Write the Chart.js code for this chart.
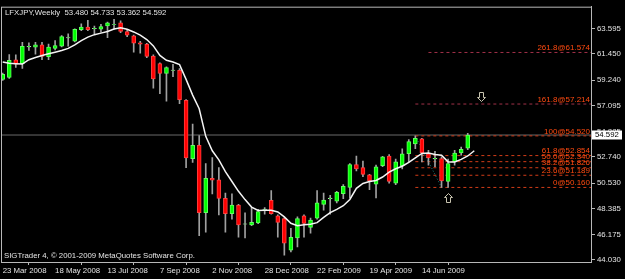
<!DOCTYPE html>
<html>
<head>
<meta charset="utf-8">
<script src="https://cdn.jsdelivr.net/npm/chart.js@4/dist/chart.umd.min.js"></script>
<style>
  html, body { margin: 0; padding: 0; background: #000; }
  #wrap { width: 625px; height: 279px; position: relative; }
</style>
</head>
<body>
<div id="wrap"><canvas id="chart"></canvas></div>
<script>
// weekly bars, index 0 = 23 Mar 2008
const opens  = [59.30, 59.47, 60.96, 60.63, 62.05, 62.02, 62.21, 61.21, 61.92, 62.10, 62.80, 62.52, 63.50, 63.73, 63.58, 63.54, 63.81, 63.94, 64.09, 63.35, 62.98, 62.40, 62.29, 61.27, 60.63, 59.80, 60.05, 60.07, 57.53, 52.60, 53.71, 48.03, 50.94, 50.80, 49.23, 47.95, 48.67, 47.05, 46.98, 47.15, 48.29, 49.06, 47.76, 47.53, 44.85, 45.90, 47.76, 46.78, 47.57, 48.73, 49.21, 49.00, 49.64, 50.17, 52.10, 51.83, 51.22, 50.44, 51.99, 52.82, 50.52, 51.99, 53.01, 53.84, 54.26, 53.01, 52.58, 52.60, 50.66, 52.32, 53.07, 53.480];
const highs  = [59.84, 61.40, 61.38, 62.43, 62.38, 62.43, 62.43, 62.29, 62.57, 63.00, 63.16, 63.58, 64.00, 64.29, 63.81, 63.95, 64.14, 64.37, 64.24, 63.54, 63.04, 62.52, 62.35, 61.38, 60.69, 60.36, 60.57, 60.21, 57.58, 55.51, 54.54, 52.18, 52.68, 51.83, 49.69, 49.61, 48.73, 48.02, 48.45, 48.31, 48.45, 49.89, 47.84, 47.61, 46.70, 47.67, 47.84, 47.57, 49.89, 49.69, 49.50, 49.83, 50.40, 52.18, 52.82, 52.38, 51.27, 52.05, 52.80, 52.93, 52.55, 53.43, 54.21, 54.52, 54.32, 53.30, 53.21, 52.74, 52.55, 53.30, 53.57, 54.733];
const lows   = [59.22, 59.38, 60.30, 60.22, 61.75, 61.42, 60.96, 60.96, 61.79, 62.04, 62.10, 62.46, 63.41, 63.41, 63.16, 63.29, 62.83, 63.54, 63.25, 62.90, 61.60, 61.52, 61.13, 58.55, 58.08, 57.45, 59.53, 57.25, 51.83, 52.27, 46.09, 46.37, 49.61, 47.84, 46.37, 47.48, 45.95, 45.90, 46.93, 47.09, 47.90, 47.90, 45.95, 44.43, 44.70, 45.12, 45.95, 46.29, 47.48, 48.23, 47.90, 48.86, 49.20, 49.28, 51.55, 51.08, 49.97, 49.28, 51.91, 50.52, 50.39, 51.72, 52.32, 53.43, 52.32, 52.05, 51.91, 50.16, 50.16, 52.05, 52.88, 53.362];
const closes = [59.72, 60.90, 60.59, 62.10, 62.09, 62.21, 61.25, 62.04, 62.15, 62.91, 62.84, 63.54, 63.73, 63.51, 63.61, 63.76, 64.09, 63.96, 63.35, 63.04, 62.37, 62.27, 61.24, 59.33, 59.80, 60.30, 60.09, 57.58, 52.66, 53.71, 48.03, 50.94, 50.77, 49.23, 47.95, 48.67, 46.98, 47.09, 47.20, 48.11, 48.33, 47.95, 47.20, 45.45, 45.95, 47.53, 47.12, 47.40, 48.86, 49.08, 49.25, 49.75, 50.25, 52.10, 51.72, 51.27, 50.72, 51.91, 52.74, 50.66, 52.32, 53.01, 54.04, 54.32, 53.10, 52.66, 52.62, 50.72, 52.18, 53.07, 53.38, 54.592];

// moving average (one value per bar position, last one is one bar ahead)
const maValues = [60.77, 60.67, 60.63, 60.59, 60.96, 61.15, 61.32, 61.46, 61.60, 61.74, 61.92, 62.21, 62.58, 62.87, 63.08, 63.21, 63.35, 63.56, 63.66, 63.54, 63.31, 63.04, 62.67, 62.13, 61.32, 60.91, 60.77, 60.55, 59.30, 57.97, 56.81, 54.48, 53.26, 52.49, 51.49, 50.66, 49.83, 49.13, 48.50, 48.21, 48.23, 48.23, 48.09, 47.67, 47.13, 46.93, 47.01, 47.05, 47.18, 47.62, 48.03, 48.31, 48.61, 49.14, 50.08, 50.50, 50.66, 50.75, 51.04, 51.45, 51.74, 51.95, 52.28, 52.66, 53.03, 53.07, 52.95, 52.88, 52.32, 52.32, 52.53, 52.82, 53.26];

const xTickIdx    = [0, 8, 16, 24, 32, 40, 48, 56, 64];
const xTickLabels = ['23 Mar 2008', '18 May 2008', '13 Jul 2008', '7 Sep 2008', '2 Nov 2008', '28 Dec 2008', '22 Feb 2009', '19 Apr 2009', '14 Jun 2009'];
const yTicks      = [44.030, 46.175, 48.385, 50.530, 52.740, 54.885, 57.095, 59.240, 61.450, 63.595];

const fibLevels = ['0', '23.6', '38.2', '50.0', '61.8', '100', '161.8', '261.8'];
const fibPrices = [50.160, 51.189, 51.826, 52.340, 52.854, 54.520, 57.214, 61.574];
const fibFrom   = [63, 63, 63, 63, 63, 63, 63, 65];   // bar where each level begins
const fibAnchor = [63, 67];    // bars of the 100 and 0 points
const lastPrice = 54.592;
const arrows    = [{ i: 73, price: 58.22, dir: 'down' }, { i: 68, price: 49.67, dir: 'up' }];

const xMin = -0.26, xMax = 89.82;
const yMin = 43.853, yMax = 65.447;

const FONT = '"Liberation Sans", Arial, sans-serif';
const TXT = '#e4e4e4';
const AXIS = '#b8b8b8';

const wickData = highs.map((h, i) => ({ x: i, y: [lows[i], h] }));
const bodyData = opens.map((o, i) => ({ x: i, y: [Math.min(o, closes[i]), Math.max(o, closes[i])] }));
const bodyColors = opens.map((o, i) => closes[i] >= o ? '#00ff00' : '#ff0000');
const edgeColors = opens.map((o, i) => {
  const d = closes[i] - o;
  if (Math.abs(d) < 0.06) return '#d8d8d8';
  return d > 0 ? '#60ff60' : '#ff4040';
});

const datasets = [
  { type: 'line', data: maValues.map((v, i) => ({ x: i, y: v })), borderColor: '#f4f4f4', borderWidth: 1.5,
    pointRadius: 0, tension: 0, order: 1 },
  { type: 'bar', data: bodyData, backgroundColor: bodyColors, borderColor: edgeColors, borderWidth: 1,
    borderSkipped: false, barThickness: 4, grouped: false, order: 2 },
  { type: 'bar', data: wickData, backgroundColor: '#a0a0a0', barThickness: 1, grouped: false, order: 3 },
  { type: 'line', data: [{ x: fibAnchor[0], y: fibPrices[5] }, { x: fibAnchor[1], y: fibPrices[0] }],
    borderColor: '#1a8080', borderWidth: 1, borderDash: [1, 2], pointRadius: 0, order: 4 }
];
fibPrices.forEach((p, k) => {
  datasets.push({ type: 'line', data: [{ x: fibFrom[k], y: p }, { x: xMax, y: p }],
    borderColor: k >= 6 ? '#a03048' : '#d03c18', borderWidth: 1, borderDash: [3, 3],
    pointRadius: 0, order: 5 });
});
datasets.push({ type: 'line', data: [{ x: xMin, y: lastPrice }, { x: xMax, y: lastPrice }],
  borderColor: '#6a6a6a', borderWidth: 1, pointRadius: 0, order: 6 });

const overlay = {
  id: 'overlay',
  beforeDraw(chart) {
    const c = chart.ctx;
    c.save();
    c.fillStyle = '#000';
    c.fillRect(0, 0, chart.width, chart.height);
    c.restore();
  },
  afterDatasetsDraw(chart) {
    const c = chart.ctx, xs = chart.scales.x, ys = chart.scales.y, a = chart.chartArea;
    c.save();
    c.font = '8px ' + FONT;
    c.fillStyle = '#ff4a10';
    c.textAlign = 'right';
    c.textBaseline = 'bottom';
    fibPrices.forEach((p, k) => {
      c.fillText(fibLevels[k] + '@' + p.toFixed(3), a.right - 1, ys.getPixelForValue(p) - 0.5);
    });
    // hollow arrows
    c.strokeStyle = '#c8c4b0';
    c.lineWidth = 1;
    arrows.forEach(ar => {
      const cx = Math.round(xs.getPixelForValue(ar.i)) + 0.5;
      const t = Math.round(ys.getPixelForValue(ar.price)) + 0.5;
      const s = ar.dir === 'up' ? 1 : -1;
      const tip = ar.dir === 'up' ? t : t + 9;
      c.beginPath();
      c.moveTo(cx, tip);
      c.lineTo(cx + 4, tip + 4 * s);
      c.lineTo(cx + 2, tip + 4 * s);
      c.lineTo(cx + 2, tip + 9 * s);
      c.lineTo(cx - 2, tip + 9 * s);
      c.lineTo(cx - 2, tip + 4 * s);
      c.lineTo(cx - 4, tip + 4 * s);
      c.closePath();
      c.stroke();
    });
    c.restore();
  },
  afterDraw(chart) {
    const c = chart.ctx, a = chart.chartArea, ys = chart.scales.y;
    c.save();
    c.strokeStyle = AXIS;
    c.lineWidth = 1;
    c.strokeRect(a.left + 0.5, a.top + 0.5, a.right - a.left, a.bottom - a.top);
    c.font = '7.8px ' + FONT;
    c.fillStyle = TXT;
    c.textAlign = 'left';
    c.textBaseline = 'middle';
    c.fillText('LFXJPY,Weekly  ' + [opens, highs, lows, closes].map(s => s[s.length - 1].toFixed(3)).join(' '), a.left + 4, a.top + 6);
    c.fillText('SIGTrader 4, \u00a9 2001-2009 MetaQuotes Software Corp.', a.left + 3, a.bottom - 6);
    // last price box
    const py = ys.getPixelForValue(lastPrice);
    c.fillStyle = '#ffffff';
    c.fillRect(a.right + 1, Math.round(py) - 4.5, 30, 9);
    c.fillStyle = '#000';
    c.fillText(lastPrice.toFixed(3), a.right + 4, py);
    c.restore();
  }
};

new Chart(document.getElementById('chart'), {
  type: 'bar',
  data: { datasets },
  plugins: [overlay],
  options: {
    responsive: true,
    maintainAspectRatio: false,
    animation: false,
    layout: { padding: { left: 1, top: 2, right: 0, bottom: 0 } },
    plugins: { legend: { display: false }, tooltip: { enabled: false } },
    scales: {
      x: {
        type: 'linear', min: xMin, max: xMax, offset: false,
        afterBuildTicks: s => { s.ticks = xTickIdx.map(v => ({ value: v })); },
        afterFit: s => { s.height = 17; },
        grid: { drawOnChartArea: false, drawTicks: true, tickLength: 3, color: AXIS },
        border: { color: AXIS },
        ticks: { align: 'start', maxRotation: 0, autoSkip: false, padding: 1, color: TXT,
                 font: { family: FONT, size: 7.8 }, callback: (v, idx) => xTickLabels[idx] }
      },
      y: {
        position: 'right', min: yMin, max: yMax,
        afterBuildTicks: s => { s.ticks = yTicks.map(v => ({ value: v })); },
        afterFit: s => { s.width = 34; },
        grid: { drawOnChartArea: false, drawTicks: true, tickLength: 4, color: AXIS },
        border: { color: AXIS },
        ticks: { padding: 2, color: TXT, font: { family: FONT, size: 7.8 },
                 callback: v => v.toFixed(3) }
      }
    }
  }
});
</script>
</body>
</html>
